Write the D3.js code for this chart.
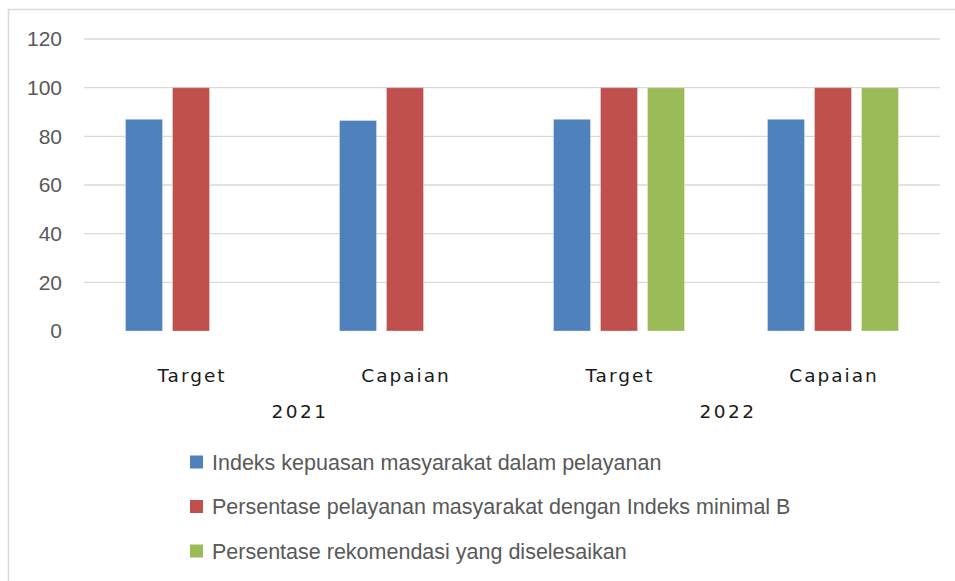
<!DOCTYPE html>
<html>
<head>
<meta charset="utf-8">
<script src="https://cdn.jsdelivr.net/npm/d3@7"></script>
<style>
  body { margin: 0; background: #fff; }
  svg { display: block; }
</style>
</head>
<body>
<div id="chart"></div>
<script>
// data
const years = ["2021", "2022"];
const stages = ["Target", "Capaian"];
const series = [
    "Indeks kepuasan masyarakat dalam pelayanan",
    "Persentase pelayanan masyarakat dengan Indeks minimal B",
    "Persentase rekomendasi yang diselesaikan"
];
const indeksValues = [87, 86.5, 87, 87];
const persenBValues = [100, 100, 100, 100];
const rekomendasiValues = [null, null, 100, 100];
const yTicks = [0, 20, 40, 60, 80, 100, 120];

const colors = ["#4F81BD", "#C0504D", "#9BBB59"];

const W = 955, H = 581;
const plot = {left: 84, right: 940, top: 39, bottom: 331};

const categories = [];
years.forEach(yr => stages.forEach(st => categories.push({key: yr + "-" + st, year: yr, stage: st})));
const seriesValues = [indeksValues, persenBValues, rekomendasiValues];

const svg = d3.select("#chart").append("svg")
    .attr("width", W)
    .attr("height", H);

// outer frame (only top and left edges show in the crop)
svg.append("path")
    .attr("d", `M8.5,${H} V9.5 H${W}`)
    .attr("fill", "none")
    .attr("stroke", "#d9d9d9")
    .attr("stroke-width", 1.5);

const x0 = d3.scaleBand()
    .domain(categories.map(c => c.key))
    .range([plot.left, plot.right]);

const groupSpan = 131;
const x1 = d3.scaleBand()
    .domain(series)
    .range([(x0.bandwidth() - groupSpan) / 2, (x0.bandwidth() + groupSpan) / 2])
    .paddingInner(10 / 47);

const y = d3.scaleLinear().domain([0, 120]).range([plot.bottom, plot.top]);

// gridlines
svg.append("g")
    .selectAll("line")
    .data(yTicks.filter(t => t > 0))
    .join("line")
    .attr("x1", plot.left)
    .attr("x2", plot.right)
    .attr("y1", d => y(d))
    .attr("y2", d => y(d))
    .attr("stroke", "#d9d9d9")
    .attr("stroke-width", 1.4);

// y axis labels
const yAxis = svg.append("g")
    .attr("transform", `translate(62,0)`)
    .call(d3.axisLeft(y).tickValues(yTicks).tickSize(0).tickPadding(0));
yAxis.select(".domain").remove();
yAxis.selectAll("text")
    .attr("fill", "#595959")
    .style("font-family", "'Liberation Sans', Arial, sans-serif")
    .style("font-size", "21px");

// bars
const groups = svg.append("g")
    .selectAll("g")
    .data(categories)
    .join("g")
    .attr("transform", d => `translate(${x0(d.key)},0)`);

groups.selectAll("rect")
    .data((d, i) => series.map((s, j) => ({s, j, v: seriesValues[j][i]})).filter(e => e.v != null))
    .join("rect")
    .attr("x", d => x1(d.s))
    .attr("width", x1.bandwidth())
    .attr("y", d => y(d.v))
    .attr("height", d => y(0) - y(d.v))
    .attr("fill", d => colors[d.j])
    .attr("stroke", "#fff")
    .attr("stroke-opacity", 0.3)
    .attr("stroke-width", 1);

// category labels
const labelFont = "'DejaVu Sans', Verdana, sans-serif";
svg.append("g")
    .selectAll("text")
    .data(categories)
    .join("text")
    .attr("x", d => x0(d.key) + x0.bandwidth() / 2 + 1)
    .attr("y", 382)
    .attr("text-anchor", "middle")
    .attr("fill", "#1a1a1a")
    .style("font-family", labelFont)
    .style("font-size", "18.5px")
    .style("letter-spacing", "2px")
    .text(d => d.stage);

// year labels
svg.append("g")
    .selectAll("text")
    .data(years)
    .join("text")
    .attr("x", yr => x0(yr + "-" + stages[0]) + x0.bandwidth() + 2)
    .attr("y", 418)
    .attr("text-anchor", "middle")
    .attr("fill", "#1a1a1a")
    .style("font-family", labelFont)
    .style("font-size", "18.5px")
    .style("letter-spacing", "2.5px")
    .text(yr => yr);

// legend
const legendY = d3.scalePoint().domain(series).range([462, 551]);
const legend = svg.append("g")
    .selectAll("g")
    .data(series)
    .join("g")
    .attr("transform", d => `translate(190,${legendY(d)})`);

legend.append("rect")
    .attr("x", 0)
    .attr("y", -6.5)
    .attr("width", 13)
    .attr("height", 13)
    .attr("fill", (d, i) => colors[i]);

legend.append("text")
    .attr("x", 22)
    .attr("y", 0)
    .attr("dy", "0.36em")
    .attr("fill", "#595959")
    .style("font-family", "'Liberation Sans', Arial, sans-serif")
    .style("font-size", "21.5px")
    .text(d => d);
</script>
</body>
</html>
